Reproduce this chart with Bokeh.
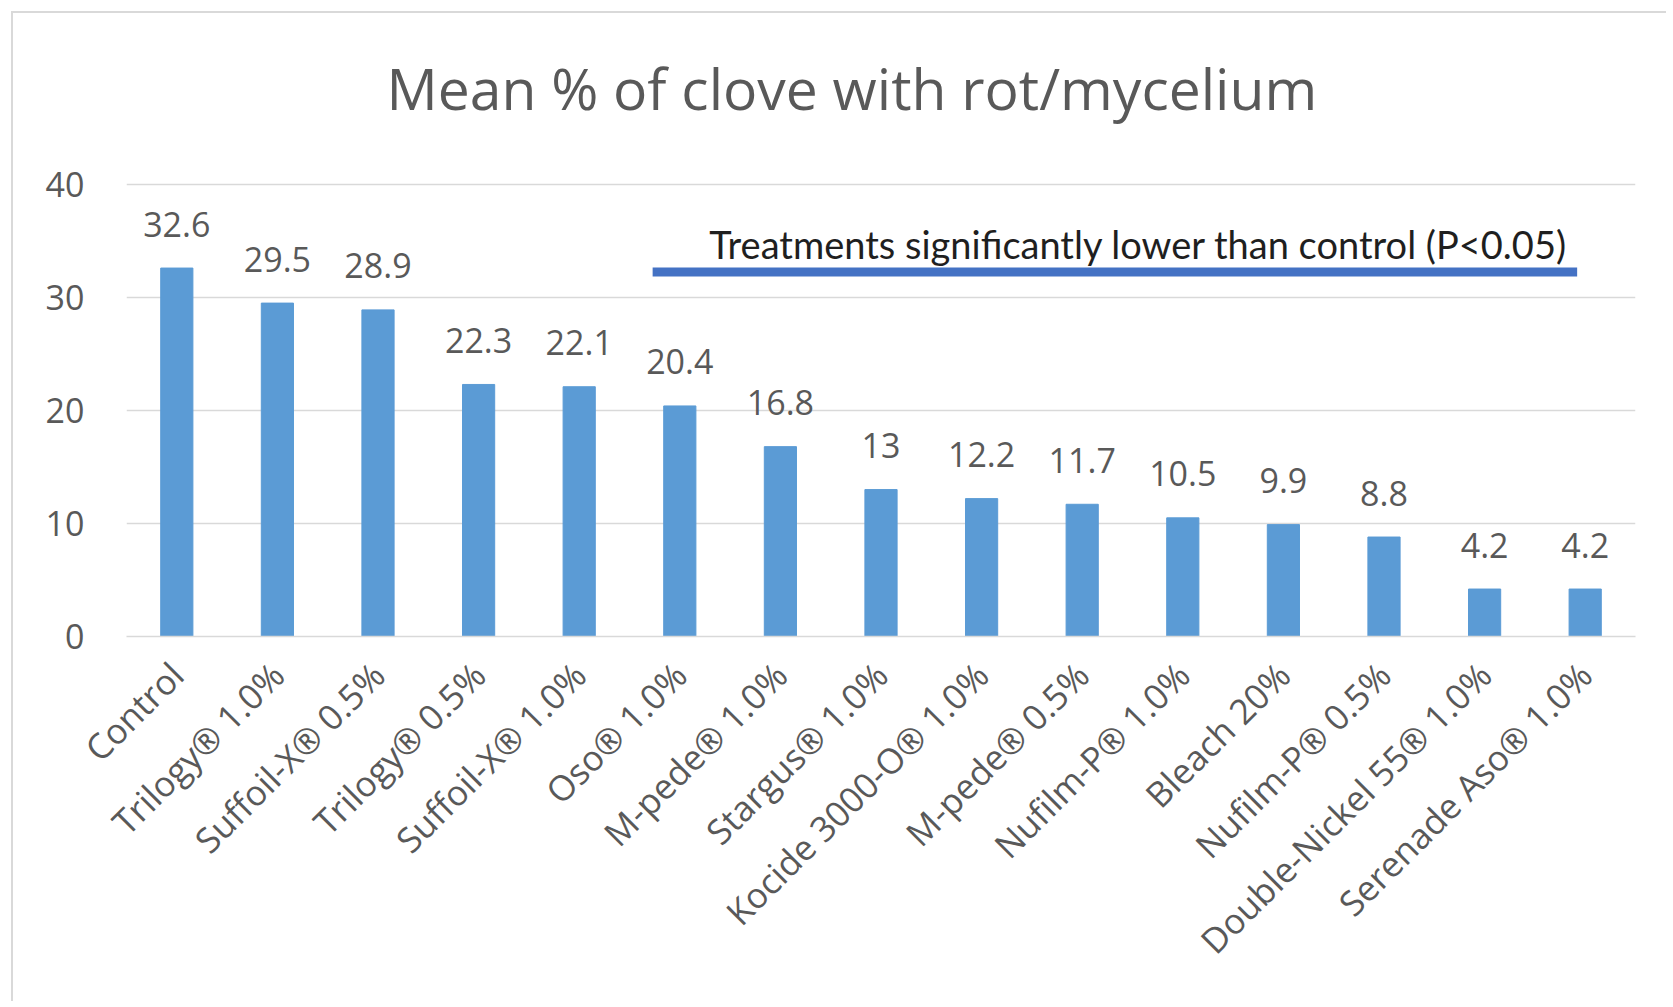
from math import pi
from bokeh.plotting import figure
from bokeh.models import Label, ColumnDataSource, Range1d, FactorRange
from bokeh.embed import file_html
from bokeh.resources import INLINE
from bokeh.core.properties import value

categories = ["Control", "Trilogy® 1.0%", "Suffoil-X® 0.5%", "Trilogy® 0.5%", "Suffoil-X® 1.0%",
              "Oso® 1.0%", "M-pede® 1.0%", "Stargus® 1.0%", "Kocide 3000-O® 1.0%", "M-pede® 0.5%",
              "Nufilm-P® 1.0%", "Bleach 20%", "Nufilm-P® 0.5%", "Double-Nickel 55® 1.0%", "Serenade Aso® 1.0%"]
values = [32.6, 29.5, 28.9, 22.3, 22.1, 20.4, 16.8, 13, 12.2, 11.7, 10.5, 9.9, 8.8, 4.2, 4.2]
value_labels = ["32.6", "29.5", "28.9", "22.3", "22.1", "20.4", "16.8", "13", "12.2", "11.7",
                "10.5", "9.9", "8.8", "4.2", "4.2"]
y_ticks = [0, 10, 20, 30, 40]
title_text = "Mean % of clove with rot/mycelium"
legend_text = "Treatments significantly lower than control (P<0.05)"

BAR = "#5B9BD5"
GRAY_TXT = "#595959"
GRID = "#D9D9D9"
FONT = "Open Sans"

src = ColumnDataSource(dict(cat=categories, val=values, lbl=value_labels))

# frame extends above the 40 gridline so the title can sit inside it
p = figure(x_range=FactorRange(*categories, range_padding=0), y_range=Range1d(0, 53),
           width=1655, height=990, output_backend="svg", toolbar_location=None,
           min_border_left=113, min_border_right=33, min_border_top=24, min_border_bottom=367)
p.title = None
p.styles = {"border-top": "2px solid #D9D9D9", "border-left": "2px solid #D9D9D9",
            "margin-left": "11px", "margin-top": "11px"}
p.outline_line_color = None
p.background_fill_color = "white"
p.border_fill_color = "white"

p.vbar(x="cat", top="val", width=0.32, color=BAR, source=src)
p.text(x="cat", y="val", text="lbl", source=src, text_align="center", text_baseline="alphabetic",
       y_offset=-44, text_font=value(FONT), text_font_size="34px", text_color=GRAY_TXT)

p.xgrid.grid_line_color = None
p.ygrid.grid_line_color = GRID
p.ygrid.grid_line_width = 1.5
p.yaxis.ticker = y_ticks
p.yaxis.axis_line_color = None
p.yaxis.major_tick_line_color = None
p.yaxis.minor_tick_line_color = None
p.yaxis.major_label_standoff = 36
p.yaxis.major_label_text_font = FONT
p.yaxis.major_label_text_font_size = "34px"
p.yaxis.major_label_text_color = GRAY_TXT

p.xaxis.axis_line_color = GRID
p.xaxis.axis_line_width = 1.5
p.xaxis.major_tick_line_color = None
p.xaxis.minor_tick_line_color = None
p.xaxis.major_label_orientation = pi / 4
p.xaxis.major_label_standoff = 26
p.xaxis.major_label_text_font = FONT
p.xaxis.major_label_text_font_size = "35px"
p.xaxis.major_label_text_color = GRAY_TXT

p.add_layout(Label(x=7.21, y=48.5, text=title_text, text_align="center", text_baseline="middle",
                   text_font=FONT, text_font_size="57px", text_color=GRAY_TXT))
p.add_layout(Label(x=10.06, y=34.7, text=legend_text, text_align="center", text_baseline="middle",
                   text_font="Lato", text_font_size="38px", text_color="#1F1F1F"))
p.segment(x0=[5.23], y0=[32.26], x1=[14.42], y1=[32.26], line_color="#4472C4", line_width=9)

open("out.html", "w").write(file_html(p, INLINE))
